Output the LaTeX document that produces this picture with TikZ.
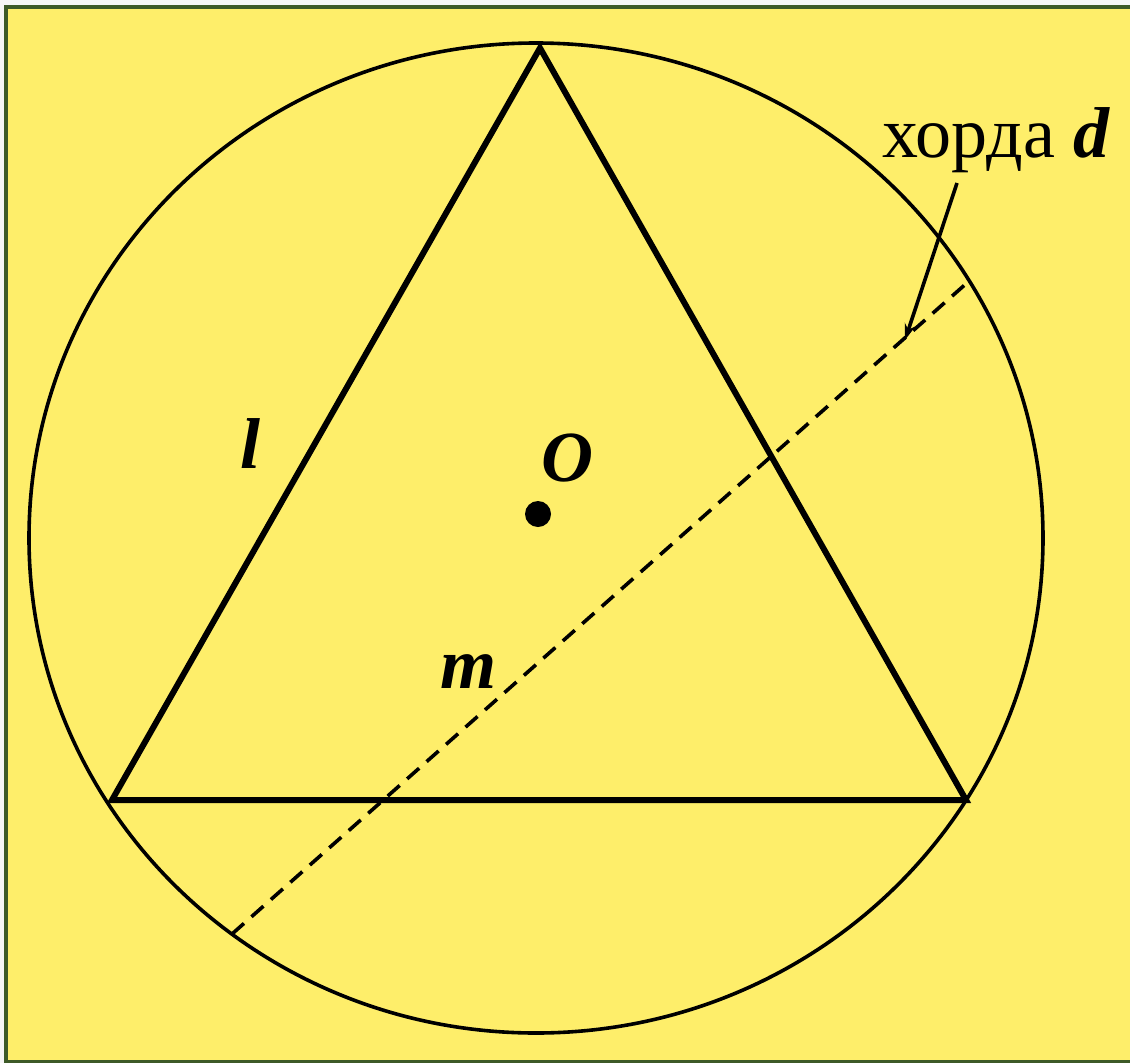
\documentclass[tikz,border=0pt]{standalone}
\usepackage{fontspec}
\setmainfont{Liberation Serif}
\usetikzlibrary{arrows.meta}
\definecolor{bgyellow}{HTML}{FEEE6A}
\definecolor{frameg}{HTML}{3D5A28}
\begin{document}
\begin{tikzpicture}[x=1pt,y=-1pt,
  lbl/.style={anchor=base west,inner sep=0pt,font=\fontsize{72}{80}\selectfont},
  tri/.style={line width=6pt,line join=miter},
  circ/.style={line width=3.6pt},
  chord/.style={line width=3.6pt,dash pattern=on 16pt off 10pt},
  leader/.style={line width=3.6pt,-{Stealth[length=16pt,width=11pt]}}]
\useasboundingbox (0,0) rectangle (1130,1063);
\fill[white!93!gray] (0,0) rectangle (1130,1063);
\fill[bgyellow] (6,7) rectangle (1134,1062);
\draw[frameg,line width=4pt] (1136,7) -- (6,7) -- (6,1062) -- (1136,1062);
% geometry
\coordinate (C) at (536,538);
\coordinate (A) at (540,48);
\coordinate (B) at (112,800);
\coordinate (D) at (966,800);
\coordinate (P) at (232,934);
\coordinate (Q) at (968,282);
\coordinate (L1) at (957,183);
\coordinate (L2) at (905,340);
\draw[circ] (C) ellipse [x radius=507, y radius=495];
\draw[tri] (A) -- (B) -- (D) -- cycle;
\draw[chord] (P) -- (Q);
\draw[leader] (L1) -- (L2);
\fill (538,514) circle [radius=13];
\node[lbl] (o) at (541,481) {\textbf{\textit{O}}};
\node[lbl] (l) at (240,468) {\textbf{\textit{l}}};
\node[lbl] (m) at (440,688) {\textbf{\textit{m}}};
\node[lbl] (h) at (882,157) {хорда \textbf{\textit{d}}};
\end{tikzpicture}
\end{document}
